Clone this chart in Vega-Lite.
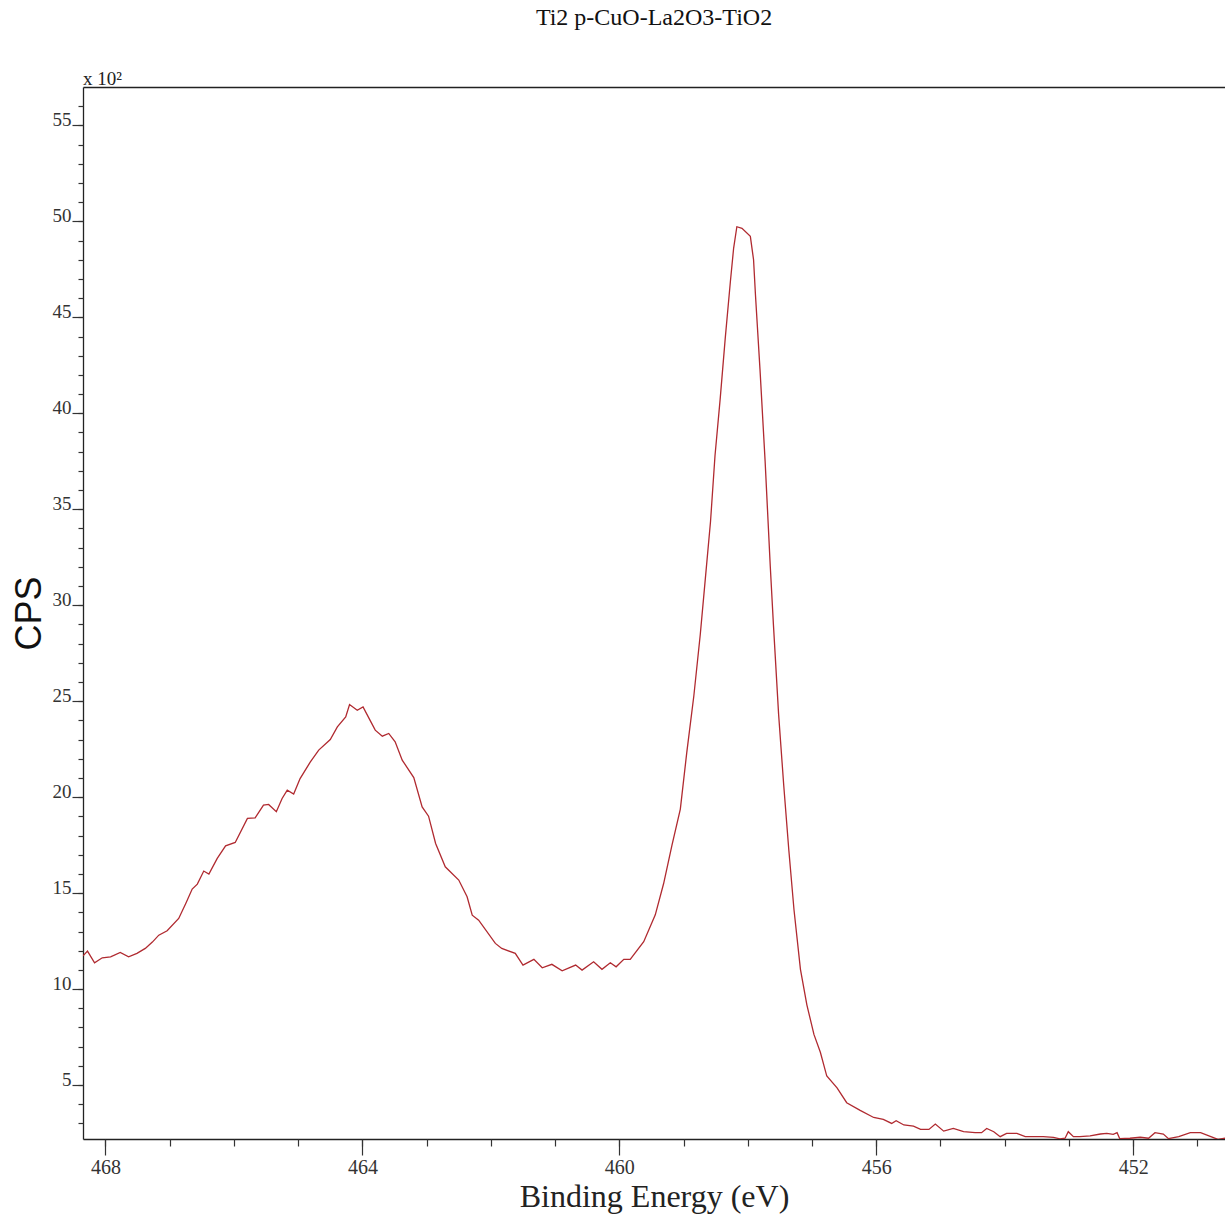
{
  "$schema": "https://vega.github.io/schema/vega-lite/v6.json",
  "width": 1142,
  "height": 1052,
  "autosize": {"type": "none"},
  "padding": {"left": 83, "top": 87, "right": 0, "bottom": 78},
  "background": "white",
  "title": {"text": "Ti2 p-CuO-La2O3-TiO2", "font": "Liberation Serif", "fontSize": 24, "fontWeight": "normal", "color": "#111", "anchor": "middle", "frame": "group", "baseline": "bottom", "offset": 16},
  "config": {
    "view": {"stroke": null},
    "axis": {"grid": false, "labelFont": "Liberation Serif", "labelColor": "#333", "tickColor": "#333", "domainColor": "#222", "tickWidth": 1.2, "domainWidth": 1.3, "labelFlush": false, "labelOverlap": false}
  },
  "data": {"values": [
    {"be": 468.35, "cps": 11.73}, {"be": 468.28, "cps": 11.98}, {"be": 468.17, "cps": 11.37}, {"be": 468.05, "cps": 11.63},
    {"be": 467.92, "cps": 11.68}, {"be": 467.77, "cps": 11.91}, {"be": 467.64, "cps": 11.68}, {"be": 467.51, "cps": 11.86},
    {"be": 467.38, "cps": 12.12}, {"be": 467.27, "cps": 12.45}, {"be": 467.17, "cps": 12.81}, {"be": 467.04, "cps": 13.04},
    {"be": 466.86, "cps": 13.68}, {"be": 466.75, "cps": 14.46}, {"be": 466.65, "cps": 15.21}, {"be": 466.57, "cps": 15.47},
    {"be": 466.47, "cps": 16.15}, {"be": 466.39, "cps": 15.99}, {"be": 466.26, "cps": 16.81}, {"be": 466.13, "cps": 17.46},
    {"be": 465.98, "cps": 17.64}, {"be": 465.79, "cps": 18.89}, {"be": 465.67, "cps": 18.92}, {"be": 465.54, "cps": 19.58},
    {"be": 465.46, "cps": 19.62}, {"be": 465.34, "cps": 19.24}, {"be": 465.25, "cps": 19.93}, {"be": 465.17, "cps": 20.36},
    {"be": 465.07, "cps": 20.16}, {"be": 464.97, "cps": 20.97}, {"be": 464.81, "cps": 21.84}, {"be": 464.68, "cps": 22.45},
    {"be": 464.50, "cps": 23.00}, {"be": 464.39, "cps": 23.66}, {"be": 464.26, "cps": 24.18}, {"be": 464.20, "cps": 24.83},
    {"be": 464.08, "cps": 24.53}, {"be": 463.99, "cps": 24.70}, {"be": 463.88, "cps": 24.0}, {"be": 463.80, "cps": 23.49},
    {"be": 463.69, "cps": 23.18}, {"be": 463.59, "cps": 23.32}, {"be": 463.49, "cps": 22.88}, {"be": 463.38, "cps": 21.93},
    {"be": 463.20, "cps": 21.02}, {"be": 463.07, "cps": 19.49}, {"be": 462.97, "cps": 19.01}, {"be": 462.86, "cps": 17.59},
    {"be": 462.71, "cps": 16.37}, {"be": 462.50, "cps": 15.68}, {"be": 462.37, "cps": 14.81}, {"be": 462.29, "cps": 13.85},
    {"be": 462.19, "cps": 13.59}, {"be": 461.93, "cps": 12.38}, {"be": 461.83, "cps": 12.12}, {"be": 461.62, "cps": 11.86},
    {"be": 461.50, "cps": 11.25}, {"be": 461.33, "cps": 11.55}, {"be": 461.20, "cps": 11.11}, {"be": 461.05, "cps": 11.29},
    {"be": 460.89, "cps": 10.95}, {"be": 460.68, "cps": 11.25}, {"be": 460.58, "cps": 10.99}, {"be": 460.40, "cps": 11.42},
    {"be": 460.27, "cps": 11.03}, {"be": 460.14, "cps": 11.37}, {"be": 460.05, "cps": 11.16}, {"be": 459.93, "cps": 11.55},
    {"be": 459.83, "cps": 11.55}, {"be": 459.62, "cps": 12.47}, {"be": 459.44, "cps": 13.87}, {"be": 459.31, "cps": 15.5},
    {"be": 459.18, "cps": 17.5}, {"be": 459.05, "cps": 19.38}, {"be": 458.95, "cps": 22.32}, {"be": 458.84, "cps": 25.27},
    {"be": 458.74, "cps": 28.46}, {"be": 458.66, "cps": 31.41}, {"be": 458.58, "cps": 34.36}, {"be": 458.51, "cps": 37.80},
    {"be": 458.43, "cps": 40.74}, {"be": 458.35, "cps": 43.94}, {"be": 458.27, "cps": 46.89}, {"be": 458.22, "cps": 48.61},
    {"be": 458.17, "cps": 49.72}, {"be": 458.09, "cps": 49.64}, {"be": 457.96, "cps": 49.22}, {"be": 457.91, "cps": 48.0},
    {"be": 457.88, "cps": 46.15}, {"be": 457.81, "cps": 42.3}, {"be": 457.73, "cps": 37.5}, {"be": 457.65, "cps": 32.04},
    {"be": 457.60, "cps": 28.95}, {"be": 457.52, "cps": 24.32}, {"be": 457.44, "cps": 20.61}, {"be": 457.36, "cps": 17.21},
    {"be": 457.28, "cps": 14.12}, {"be": 457.18, "cps": 11.03}, {"be": 457.08, "cps": 9.18}, {"be": 456.97, "cps": 7.64},
    {"be": 456.87, "cps": 6.71}, {"be": 456.77, "cps": 5.47}, {"be": 456.61, "cps": 4.85}, {"be": 456.46, "cps": 4.08},
    {"be": 456.25, "cps": 3.68}, {"be": 456.04, "cps": 3.31}, {"be": 455.89, "cps": 3.21}, {"be": 455.76, "cps": 3.00},
    {"be": 455.69, "cps": 3.14}, {"be": 455.57, "cps": 2.92}, {"be": 455.42, "cps": 2.86}, {"be": 455.31, "cps": 2.69},
    {"be": 455.18, "cps": 2.69}, {"be": 455.08, "cps": 2.97}, {"be": 454.95, "cps": 2.60}, {"be": 454.80, "cps": 2.74},
    {"be": 454.64, "cps": 2.57}, {"be": 454.46, "cps": 2.52}, {"be": 454.36, "cps": 2.52}, {"be": 454.28, "cps": 2.74},
    {"be": 454.17, "cps": 2.57}, {"be": 454.07, "cps": 2.31}, {"be": 453.97, "cps": 2.48}, {"be": 453.81, "cps": 2.48},
    {"be": 453.68, "cps": 2.31}, {"be": 453.55, "cps": 2.31}, {"be": 453.40, "cps": 2.31}, {"be": 453.24, "cps": 2.28},
    {"be": 453.14, "cps": 2.20}, {"be": 453.06, "cps": 2.23}, {"be": 453.01, "cps": 2.57}, {"be": 452.93, "cps": 2.31},
    {"be": 452.83, "cps": 2.31}, {"be": 452.67, "cps": 2.35}, {"be": 452.51, "cps": 2.45}, {"be": 452.41, "cps": 2.48},
    {"be": 452.31, "cps": 2.43}, {"be": 452.25, "cps": 2.52}, {"be": 452.21, "cps": 2.21}, {"be": 452.05, "cps": 2.23},
    {"be": 451.89, "cps": 2.28}, {"be": 451.76, "cps": 2.23}, {"be": 451.66, "cps": 2.52}, {"be": 451.53, "cps": 2.45},
    {"be": 451.45, "cps": 2.21}, {"be": 451.29, "cps": 2.31}, {"be": 451.11, "cps": 2.52}, {"be": 450.95, "cps": 2.52},
    {"be": 450.79, "cps": 2.31}, {"be": 450.68, "cps": 2.17}, {"be": 450.57, "cps": 2.23}
  ]},
  "layer": [
    {
      "mark": {"type": "line", "color": "#b02a30", "strokeWidth": 1.3, "clip": true},
      "encoding": {
        "x": {"field": "be", "type": "quantitative", "scale": {"domain": [450.57, 468.35], "reverse": true, "nice": false, "zero": false},
              "axis": {"orient": "bottom", "values": [452, 456, 460, 464, 468], "tickSize": 16, "labelFontSize": 20, "labelPadding": 2, "format": "d",
                       "title": "Binding Energy (eV)", "titleFont": "Liberation Serif", "titleFontSize": 32, "titleFontWeight": "normal", "titleColor": "#222", "titlePadding": 4}},
        "y": {"field": "cps", "type": "quantitative", "scale": {"domain": [2.19, 57], "nice": false, "zero": false},
              "axis": {"orient": "left", "values": [5, 10, 15, 20, 25, 30, 35, 40, 45, 50, 55], "tickSize": 11, "labelFontSize": 19, "labelPadding": 1, "labelBaseline": "alphabetic",
                       "title": "CPS", "titleFont": "Liberation Sans", "titleFontSize": 36, "titleFontWeight": "normal", "titleColor": "#111", "titlePadding": 4}}
      }
    },
    {
      "mark": {"type": "line", "strokeOpacity": 0},
      "encoding": {
        "x": {"field": "be", "type": "quantitative", "scale": {"domain": [450.57, 468.35], "reverse": true, "nice": false, "zero": false},
              "axis": {"orient": "bottom", "values": [451, 452, 453, 454, 455, 456, 457, 458, 459, 460, 461, 462, 463, 464, 465, 466, 467, 468], "tickSize": 7, "labels": false, "domain": false, "title": null}},
        "y": {"field": "cps", "type": "quantitative", "scale": {"domain": [2.19, 57], "nice": false, "zero": false},
              "axis": {"orient": "left", "values": [3, 4, 5, 6, 7, 8, 9, 10, 11, 12, 13, 14, 15, 16, 17, 18, 19, 20, 21, 22, 23, 24, 25, 26, 27, 28, 29, 30, 31, 32, 33, 34, 35, 36, 37, 38, 39, 40, 41, 42, 43, 44, 45, 46, 47, 48, 49, 50, 51, 52, 53, 54, 55, 56], "tickSize": 5, "labels": false, "domain": false, "title": null}}
      }
    },
    {
      "data": {"values": [{"label": "x 10²"}]},
      "mark": {"type": "text", "font": "Liberation Serif", "fontSize": 19, "align": "left", "baseline": "alphabetic", "dy": -2, "color": "#222"},
      "encoding": {
        "text": {"field": "label"},
        "x": {"datum": 468.35, "type": "quantitative", "scale": {"domain": [450.57, 468.35], "reverse": true, "nice": false, "zero": false},
              "axis": {"orient": "top", "ticks": false, "labels": false, "domain": true, "title": null}},
        "y": {"datum": 57, "type": "quantitative", "scale": {"domain": [2.19, 57], "nice": false, "zero": false}, "axis": null}
      }
    }
  ],
  "resolve": {"axis": {"x": "independent", "y": "independent"}}
}
